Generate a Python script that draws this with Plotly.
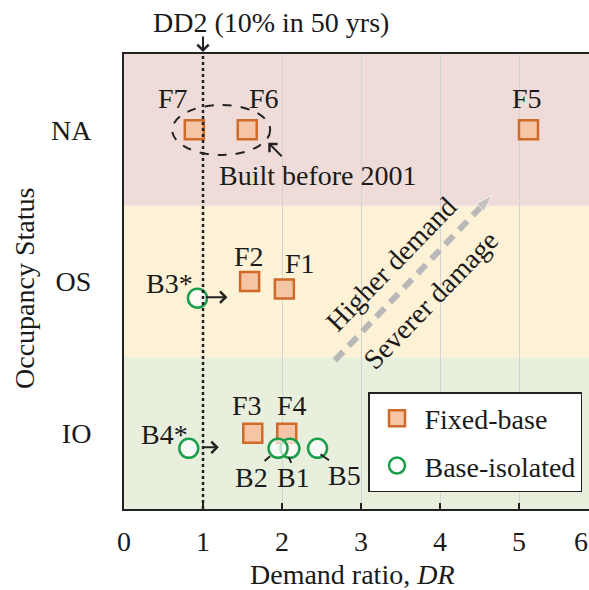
import plotly.graph_objects as go

# ---------------- data ----------------
status_vals = [0, 1, 2]
status_labels = ["IO", "OS", "NA"]
x_ticks = [0, 1, 2, 3, 4, 5]

fixed_names = ["F1", "F2", "F3", "F4", "F5", "F6", "F7"]
fixed_dr = [2.03, 1.59, 1.63, 2.06, 5.12, 1.56, 0.89]
fixed_status = [0.95, 1.0, 0.0, 0.0, 2.0, 2.0, 2.0]   # IO=0, OS=1, NA=2 (with small jitter)

iso_names = ["B1", "B2", "B3*", "B4*", "B5"]
iso_dr = [2.10, 1.95, 0.93, 0.82, 2.45]
iso_status = [-0.1, -0.1, 0.89, -0.1, -0.1]

dd2_level = 1.0

# label offsets (pixels) relative to each marker
fixed_label_off = {"F1": (16, 26), "F2": (-1, 25), "F3": (-6, 28), "F4": (5, 28),
                   "F5": (-1, 31), "F6": (17, 31), "F7": (-21, 31)}
iso_label_off = {"B1": (4, -29), "B2": (-27, -29), "B3*": (-28, 15), "B4*": (-24, 14),
                 "B5": (27, -27)}

FONT = "Liberation Serif"
FS = 28
TXT = "#1a1a1a"
PX_PER_X = 79.0
PLOT_W = 589 - 124

fig = go.Figure()

# background bands
band_colors = {0: "#e8efdd", 1: "#fdf1d6", 2: "#efdcd8"}
shapes = []
for v in status_vals:
    shapes.append(dict(type="rect", xref="paper", yref="y", x0=0, x1=1, y0=v - 0.5, y1=v + 0.5,
                       fillcolor=band_colors[v], line=dict(width=0), layer="below"))
# DD2 dotted line
shapes.append(dict(type="line", xref="x", yref="paper", x0=dd2_level, x1=dd2_level, y0=0, y1=1,
                   line=dict(color="#222", width=2.5, dash="dot"), layer="above"))
# dashed ellipse around F7/F6
shapes.append(dict(type="circle", xref="x", yref="y", x0=0.61, x1=1.85, y0=1.834, y1=2.164,
                   line=dict(color="#222", width=2, dash="dash"), layer="above"))

# grey "higher demand" arrow
fig.add_trace(go.Scatter(x=[2.67, 4.66], y=[0.48, 1.57], mode="lines+markers",
                         line=dict(color="#b8b8b8", width=6, dash="12px,8px"),
                         marker=dict(symbol=["circle", "arrow"], size=[0, 18], angleref="previous",
                                     color="#b8b8b8"),
                         showlegend=False, hoverinfo="skip"))

fig.add_trace(go.Scatter(x=fixed_dr, y=fixed_status, mode="markers", name="Fixed-base",
                         legendgroup="a",
                         marker=dict(symbol="square", size=19, color="#f6c5a5",
                                     line=dict(color="#d06a28", width=2.5))))
fig.add_trace(go.Scatter(x=iso_dr, y=iso_status, mode="markers", name="Base-isolated",
                         legendgroup="b",
                         marker=dict(symbol="circle", size=19, color="rgba(255,255,255,0.7)",
                                     line=dict(color="#1a9e4a", width=2.5))))

def tfont(size=FS):
    return dict(family=FONT, size=size, color=TXT)

ann = []
for n, x, y in zip(fixed_names, fixed_dr, fixed_status):
    dx, dy = fixed_label_off[n]
    ann.append(dict(x=x, y=y, xref="x", yref="y", text=n, showarrow=False,
                    xanchor="center", yanchor="middle",
                    xshift=dx, yshift=dy, font=tfont()))
for n, x, y in zip(iso_names, iso_dr, iso_status):
    dx, dy = iso_label_off[n]
    ann.append(dict(x=x, y=y, xref="x", yref="y", text=n, showarrow=False,
                    xanchor="center", yanchor="middle",
                    xshift=dx, yshift=dy, font=tfont()))

iso = dict(zip(iso_names, zip(iso_dr, iso_status)))
fix = dict(zip(fixed_names, zip(fixed_dr, fixed_status)))

# arrows to the right of B3*, B4*
for n, head, tail in [("B3*", 30, 7), ("B4*", 30, 12)]:
    x, y = iso[n]
    ann.append(dict(x=x, y=y, xref="x", yref="y", text="", showarrow=True,
                    xshift=head, yshift=1, ax=-(head - tail), ay=0, arrowhead=4,
                    arrowsize=1.1, arrowwidth=2, arrowcolor="#222"))
# leader lines
for n, hx, hy, ax, ay in [("B2", -8, -8, -7, 6), ("B1", -1, -9, 3, 7), ("B5", 3, -6, 10, 7)]:
    x, y = iso[n]
    ann.append(dict(x=x, y=y, xref="x", yref="y", text="", showarrow=True,
                    xshift=hx, yshift=hy, ax=ax, ay=ay, arrowhead=0,
                    arrowwidth=2, arrowcolor="#222"))

# Built before 2001
x6, y6 = fix["F6"]
ann.append(dict(x=x6, y=y6, xref="x", yref="y", text="Built before 2001", showarrow=False,
                xanchor="center", yanchor="middle",
                xshift=71, yshift=-46, font=tfont()))
ann.append(dict(x=x6, y=y6, xref="x", yref="y", text="", showarrow=True,
                xshift=21, yshift=-13, ax=15, ay=15, arrowhead=4, arrowsize=1.1,
                arrowwidth=2, arrowcolor="#222"))

# DD2 label and arrow
ann.append(dict(x=dd2_level, y=1, xref="x", yref="paper", text="DD2 (10% in 50 yrs)",
                showarrow=False, xanchor="center", yanchor="middle", xshift=68, yshift=32,
                font=tfont(28)))
ann.append(dict(x=dd2_level, y=1, xref="x", yref="paper", text="", showarrow=True,
                yshift=2, ax=0, ay=-17, arrowhead=4, arrowsize=1.1, arrowwidth=2,
                arrowcolor="#222"))

# rotated texts
ann.append(dict(x=3.38, y=1.11, xref="x", yref="y", text="Higher demand", showarrow=False,
                xanchor="center", yanchor="middle", textangle=-46, font=tfont()))
ann.append(dict(x=3.89, y=0.88, xref="x", yref="y", text="Severer damage", showarrow=False,
                xanchor="center", yanchor="middle", textangle=-46, font=tfont()))

# tick "6" (at the right edge of the visible range)
ann.append(dict(x=(581 - 124) / PLOT_W, y=0, xref="paper", yref="paper", text="6",
                showarrow=False, xanchor="center", yanchor="middle", yshift=-32,
                font=tfont()))

# axis titles
ann.append(dict(x=(352 - 124) / PLOT_W, y=(509 - 574) / 455, xref="paper", yref="paper",
                text="Demand ratio, <i>DR</i>", showarrow=False, xanchor="center",
                yanchor="middle", font=tfont()))
ann.append(dict(x=(24 - 124) / PLOT_W, y=(509 - 289) / 455, xref="paper", yref="paper",
                text="Occupancy Status", showarrow=False, textangle=-90, xanchor="center",
                yanchor="middle", font=tfont()))

fig.update_layout(
    width=589, height=590,
    margin=dict(l=124, r=0, t=54, b=81),
    paper_bgcolor="white", plot_bgcolor="white",
    font=tfont(),
    shapes=shapes, annotations=ann,
    legend=dict(x=(368 - 124) / PLOT_W, y=(509 - 392) / 455, xanchor="left", yanchor="top",
                bgcolor="white", bordercolor="#222", borderwidth=1.5,
                font=tfont(),
                traceorder="grouped", tracegroupgap=8, itemwidth=45),
    xaxis=dict(range=[0, PLOT_W / PX_PER_X], tickvals=x_ticks, ticks="inside", ticklen=6,
               tickwidth=1.5, tickcolor="#222", showline=True, linecolor="#222", linewidth=2,
               mirror=True, showgrid=True, gridcolor="#d3d3d3", gridwidth=1, zeroline=False,
               ticklabelstandoff=6, tickfont=tfont()),
    yaxis=dict(range=[-0.5, 2.5], tickvals=status_vals, ticktext=status_labels, ticks="",
               showline=True, linecolor="#222", linewidth=2, showgrid=False, zeroline=False,
               ticklabelstandoff=25, tickfont=tfont()),
)

fig.write_html("out.html")
